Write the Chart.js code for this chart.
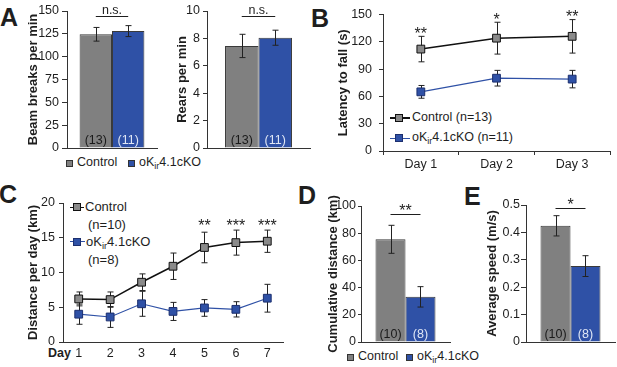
<!DOCTYPE html>
<html>
<head>
<meta charset="utf-8">
<script src="https://cdn.jsdelivr.net/npm/chart.js@4.4.1/dist/chart.umd.min.js"></script>
<style>
  html, body { margin: 0; padding: 0; background: #fff; }
  #fig { position: relative; width: 617px; height: 367px; overflow: hidden;
         font-family: 'Liberation Sans', Arial, Helvetica, sans-serif; color: #1e1e1e; }
  #fig canvas { position: absolute; left: 0; top: 0; }
  .letter { position: absolute; font-weight: bold; font-size: 25px; line-height: 25px; }
  .txt { position: absolute; font-size: 12.5px; line-height: 15px; white-space: nowrap; }
  .sq { position: absolute; width: 7px; height: 7px; box-sizing: border-box; border: 1px solid #333; }
  .sub { font-size: 0.72em; position: relative; top: 0.28em; }
  .seg { position: absolute; }
  .mk { position: absolute; width: 8px; height: 8px; box-sizing: border-box; border: 1px solid #111; }
</style>
</head>
<body>
<div id="fig">
  <div class="letter" style="left:0px;top:5px">A</div>
  <div class="letter" style="left:311px;top:6px">B</div>
  <div class="letter" style="left:-1px;top:182px">C</div>
  <div class="letter" style="left:298px;top:183px">D</div>
  <div class="letter" style="left:464px;top:184px">E</div>

  <!-- legend A -->
  <div class="sq" style="left:66px;top:160px;background:#808080"></div>
  <div class="txt" style="left:77px;top:155px">Control</div>
  <div class="sq" style="left:128px;top:160px;background:#2f51a6"></div>
  <div class="txt" style="left:139px;top:155px">oK<span class="sub">ir</span>4.1cKO</div>

  <!-- legend D/E -->
  <div class="sq" style="left:347px;top:354px;background:#808080"></div>
  <div class="txt" style="left:358px;top:349px">Control</div>
  <div class="sq" style="left:406px;top:354px;background:#2f51a6"></div>
  <div class="txt" style="left:417px;top:349px">oK<span class="sub">ir</span>4.1cKO</div>

  <!-- legend B -->
  <div class="seg" style="left:390px;top:117px;width:20px;height:1.5px;background:#111"></div>
  <div class="mk" style="left:395px;top:114px;background:#8a8a8a"></div>
  <div class="txt" style="left:412px;top:110px">Control (n=13)</div>
  <div class="seg" style="left:390px;top:137.5px;width:20px;height:1px;background:#2f51a6"></div>
  <div class="mk" style="left:395px;top:134px;background:#2f51a6;border-color:#1c2f6e"></div>
  <div class="txt" style="left:412px;top:130px">oK<span class="sub">ir</span>4.1cKO (n=11)</div>

  <!-- legend C -->
  <div class="seg" style="left:70px;top:206.5px;width:14px;height:1.5px;background:#111"></div>
  <div class="mk" style="left:73px;top:203px;background:#8a8a8a"></div>
  <div class="txt" style="left:85px;top:199px;font-size:13px">Control</div>
  <div class="txt" style="left:88px;top:217px;font-size:13px">(n=10)</div>
  <div class="seg" style="left:70px;top:241px;width:15px;height:1px;background:#2f51a6"></div>
  <div class="mk" style="left:73px;top:237.5px;background:#2f51a6;border-color:#1c2f6e"></div>
  <div class="txt" style="left:86px;top:234px;font-size:13px">oK<span class="sub">ir</span>4.1cKO</div>
  <div class="txt" style="left:88px;top:252px;font-size:13px">(n=8)</div>

  <div class="txt" style="left:48px;top:345.5px;font-weight:bold">Day</div>
</div>

<script>
// ---- data ----
const groups = ['Control', 'oKir4.1cKO'];

// A: open field
const beamMean = [124.5, 128];
const beamErr = [7.5, 6];
const rearsMean = [7.45, 8.05];
const rearsErr = [0.85, 0.55];
const countsA = ['(13)', '(11)'];

// B: rotarod
const rotarodDays = ['Day 1', 'Day 2', 'Day 3'];
const rotarodCtrl = [112, 124, 126];
const rotarodCtrlErr = [14, 17.5, 18.4];
const rotarodKO = [65, 80, 79];
const rotarodKOErr = [7, 8.6, 9.6];
const rotarodStars = ['**', '*', '**'];

// C: running wheel per day
const wheelDays = ['1', '2', '3', '4', '5', '6', '7'];
const wheelCtrl = [6.2, 6.1, 8.6, 10.9, 13.6, 14.3, 14.5];
const wheelCtrlErr = [1.0, 1.1, 1.2, 1.9, 2.2, 1.8, 1.6];
const wheelKO = [4.0, 3.6, 5.5, 4.4, 4.9, 4.7, 6.3];
const wheelKOErr = [1.45, 1.5, 1.8, 1.3, 1.2, 1.1, 2.0];
const wheelStars = ['', '', '', '', '**', '***', '***'];

// D, E: totals
const cumMean = [75.5, 33.2];
const cumErr = [10.3, 7.5];
const speedMean = [0.424, 0.277];
const speedErr = [0.037, 0.038];
const countsDE = ['(10)', '(8)'];

// ---- styling ----
const W = 617, H = 367;
const FONT = "'Liberation Sans', Arial, Helvetica, sans-serif";
const INK = '#1e1e1e';
const AXIS = '#333';
const GRAY = '#808080';
const BLUE = '#2f51a6';
Chart.defaults.font.family = FONT;
Chart.defaults.font.size = 12.5;
Chart.defaults.color = INK;

const fig = document.getElementById('fig');

function drawErr(chart, cfg) {
  const ctx = chart.ctx, ys = chart.scales.y;
  ctx.save();
  ctx.strokeStyle = '#222';
  ctx.lineWidth = 1;
  cfg.errors.forEach((errs, i) => {
    const meta = chart.getDatasetMeta(i);
    const data = chart.data.datasets[i].data;
    meta.data.forEach((el, j) => {
      const x = Math.round(el.x) + 0.5;
      const t = ys.getPixelForValue(data[j] + errs[j]);
      const b = ys.getPixelForValue(data[j] - errs[j]);
      ctx.beginPath();
      ctx.moveTo(x, t); ctx.lineTo(x, b);
      ctx.moveTo(x - 3, t); ctx.lineTo(x + 3, t);
      ctx.moveTo(x - 3, b); ctx.lineTo(x + 3, b);
      ctx.stroke();
    });
  });
  ctx.restore();
}

function extras(cfg) {
  return {
    id: 'extras',
    beforeDatasetsDraw(chart) { if (cfg.under) drawErr(chart, cfg); },
    afterDatasetsDraw(chart) {
      if (!cfg.under) drawErr(chart, cfg);
      const ctx = chart.ctx, ys = chart.scales.y, area = chart.chartArea;
      ctx.save();
      ctx.textAlign = 'center';
      ctx.textBaseline = 'alphabetic';
      if (cfg.counts) {
        ctx.font = '12.5px ' + FONT;
        cfg.counts.forEach((t, i) => {
          const el = chart.getDatasetMeta(i).data[0];
          ctx.fillStyle = i === 0 ? '#1a1a1a' : '#dfe6f5';
          ctx.fillText(t, el.x, area.bottom - 4);
        });
      }
      if (cfg.sig) {
        const x0 = chart.getDatasetMeta(0).data[0].x;
        const x1 = chart.getDatasetMeta(1).data[0].x;
        const y = Math.round(ys.getPixelForValue(cfg.sig.value)) + 0.5;
        ctx.strokeStyle = INK; ctx.lineWidth = 1;
        ctx.beginPath(); ctx.moveTo(x0, y); ctx.lineTo(x1, y); ctx.stroke();
        ctx.fillStyle = INK;
        ctx.font = cfg.sig.font;
        ctx.fillText(cfg.sig.text, (x0 + x1) / 2, y + cfg.sig.dy);
      }
      if (cfg.stars) {
        const meta = chart.getDatasetMeta(0);
        const data = chart.data.datasets[0].data;
        ctx.fillStyle = INK;
        ctx.font = '16px ' + FONT;
        cfg.stars.forEach((s, j) => {
          if (!s) return;
          const el = meta.data[j];
          const y = cfg.starLevel != null
            ? ys.getPixelForValue(cfg.starLevel)
            : ys.getPixelForValue(data[j] + cfg.errors[0][j]) + 2.5;
          ctx.fillText(s, el.x, y);
        });
      }
      ctx.restore();
    }
  };
}

function panel(p) {
  const cv = document.createElement('canvas');
  cv.width = W; cv.height = H;
  fig.appendChild(cv);
  const padLeft = p.titleX - (4 + 13 * 1.2 / 2);
  return new Chart(cv, {
    type: p.type,
    data: { labels: p.labels, datasets: p.datasets },
    options: {
      responsive: false,
      animation: false,
      events: [],
      layout: { padding: { left: padLeft, top: p.top, right: W - p.right, bottom: H - p.bottom - p.xHeight } },
      plugins: { legend: { display: false }, tooltip: { enabled: false } },
      scales: {
        x: Object.assign({
          type: 'category',
          offset: true,
          border: { color: AXIS, width: 1 },
          afterFit: s => { s.height = p.xHeight; }
        }, p.x),
        y: {
          min: p.yMin, max: p.yMax,
          ticks: { stepSize: p.step, padding: p.tickPad, color: INK, font: { size: 12.5 } },
          grid: { drawOnChartArea: false, drawTicks: true, tickLength: p.tickLen, color: AXIS },
          border: { color: AXIS, width: 1 },
          title: { display: true, text: p.title, color: INK, font: { size: 13, weight: 'bold' }, padding: { top: 4, bottom: 4 } },
          afterFit: s => { s.width = p.left - padLeft; }
        }
      }
    },
    plugins: [extras(p.extras)]
  });
}

function barSets(means, pct) {
  return means.map((m, i) => ({
    label: groups[i],
    data: [m],
    backgroundColor: i === 0 ? GRAY : BLUE,
    borderColor: '#3a3a3a',
    borderWidth: 1,
    categoryPercentage: pct,
    barPercentage: 1
  }));
}

const barX = { ticks: { display: false }, grid: { display: false, drawTicks: false } };

function lineSets(ctrl, ko) {
  return [
    { label: groups[0], data: ctrl, borderColor: '#111', borderWidth: 1.5, pointStyle: 'rect',
      pointRadius: 5.5, pointBackgroundColor: '#8a8a8a', pointBorderColor: '#111', pointBorderWidth: 1 },
    { label: groups[1], data: ko, borderColor: BLUE, borderWidth: 1.2, pointStyle: 'rect',
      pointRadius: 5.5, pointBackgroundColor: BLUE, pointBorderColor: '#1c2f6e', pointBorderWidth: 1 }
  ];
}

// A left: beam breaks
panel({
  type: 'bar', labels: [''], datasets: barSets(beamMean, 0.72),
  titleX: 33, left: 67, right: 157, top: 11, bottom: 148, xHeight: 0,
  yMin: 0, yMax: 150, step: 25, tickLen: 5, tickPad: 3,
  title: 'Beam breaks per min', x: barX,
  extras: { errors: [[beamErr[0]], [beamErr[1]]], counts: countsA,
            sig: { value: 144.5, text: 'n.s.', font: '12.5px ' + FONT, dy: -3 } }
});

// A right: rears
panel({
  type: 'bar', labels: [''], datasets: barSets(rearsMean, 0.65),
  titleX: 182, left: 207, right: 310, top: 11, bottom: 148, xHeight: 0,
  yMin: 0, yMax: 10, step: 2, tickLen: 4, tickPad: 3,
  title: 'Rears per min', x: barX,
  extras: { errors: [[rearsErr[0]], [rearsErr[1]]], counts: countsA,
            sig: { value: 9.63, text: 'n.s.', font: '12.5px ' + FONT, dy: -3 } }
});

// B: latency to fall
panel({
  type: 'line', labels: rotarodDays, datasets: lineSets(rotarodCtrl, rotarodKO),
  titleX: 343, left: 383, right: 610, top: 8, bottom: 151, xHeight: 22,
  yMin: 0, yMax: 150, step: 30, tickLen: 4, tickPad: 7,
  title: 'Latency to fall (s)',
  x: { ticks: { padding: 2, maxRotation: 0, autoSkip: false, color: INK },
       grid: { offset: true, drawOnChartArea: false, drawTicks: true, tickLength: 4, color: AXIS } },
  extras: { under: true, errors: [rotarodCtrlErr, rotarodKOErr], stars: rotarodStars }
});

// C: distance per day
panel({
  type: 'line', labels: wheelDays, datasets: lineSets(wheelCtrl, wheelKO),
  titleX: 33, left: 63, right: 283, top: 203, bottom: 342, xHeight: 22,
  yMin: 0, yMax: 20, step: 5, tickLen: 4, tickPad: 4,
  title: 'Distance per day (km)',
  x: { ticks: { padding: 4, maxRotation: 0, autoSkip: false, color: INK },
       grid: { display: false, drawTicks: false } },
  extras: { under: true, errors: [wheelCtrlErr, wheelKOErr], stars: wheelStars, starLevel: 16.0 }
});

// D: cumulative distance
panel({
  type: 'bar', labels: [''], datasets: barSets(cumMean, 0.674),
  titleX: 333, left: 361, right: 450, top: 206, bottom: 342, xHeight: 0,
  yMin: 0, yMax: 100, step: 20, tickLen: 3, tickPad: 2,
  title: 'Cumulative distance (km)', x: barX,
  extras: { errors: [[cumErr[0]], [cumErr[1]]], counts: countsDE,
            sig: { value: 94, text: '**', font: '16px ' + FONT, dy: 1.5 } }
});

// E: average speed
panel({
  type: 'bar', labels: [''], datasets: barSets(speedMean, 0.674),
  titleX: 492, left: 526, right: 615, top: 205, bottom: 342, xHeight: 0,
  yMin: 0, yMax: 0.5, step: 0.1, tickLen: 5, tickPad: 1,
  title: 'Average speed (m/s)', x: barX,
  extras: { errors: [[speedErr[0]], [speedErr[1]]], counts: countsDE,
            sig: { value: 0.49, text: '*', font: '16px ' + FONT, dy: 1 } }
});
</script>
</body>
</html>
